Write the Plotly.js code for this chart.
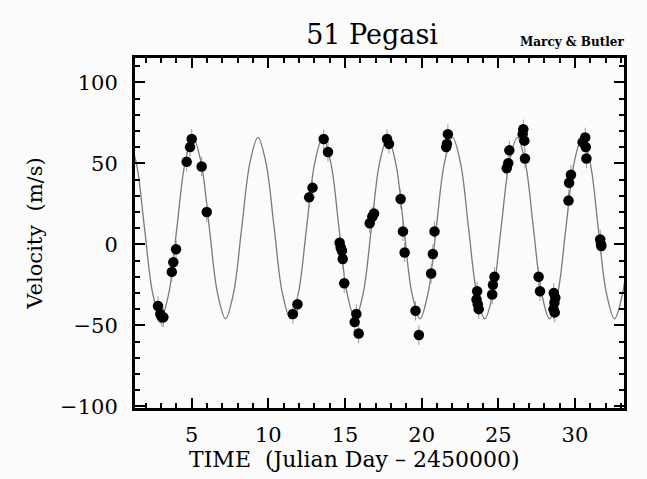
<!DOCTYPE html>
<html><head><meta charset="utf-8">
<script src="https://cdn.plot.ly/plotly-3.0.1.min.js"></script>
<style>html,body{margin:0;padding:0;background:#fbfbfb;}#chart{width:647px;height:479px;}</style>
</head><body><div id="chart"></div>
<script>
// Observed radial velocities (Julian Day - 2450000, m/s)
const obsTime = [2.8, 2.95, 3.05, 3.15, 3.7, 3.8, 3.98, 4.67, 4.89, 5.0, 5.65, 5.98,
  11.6, 11.9, 12.66, 12.88, 13.61, 13.89,
  14.65, 14.72, 14.8, 14.85, 14.95, 15.63, 15.74, 15.89,
  16.61, 16.78, 16.89, 17.74, 17.87, 18.63, 18.78, 18.89, 19.6, 19.82,
  20.62, 20.73, 20.84, 21.6, 21.65, 21.71,
  23.62, 23.58, 23.66, 23.72, 24.6, 24.65, 24.75,
  25.55, 25.65, 25.72, 26.59, 26.63, 26.7, 26.74,
  27.63, 27.72, 28.62, 28.72, 28.66, 28.6, 28.68,
  29.58, 29.62, 29.74, 30.5, 30.67, 30.71, 30.75,
  31.65, 31.7, 31.72];
const obsVel = [-38, -43, -45, -45, -17, -11, -3, 51, 60, 65, 48, 20,
  -43, -37, 29, 35, 65, 57,
  1, -2, -4, -9, -24, -48, -43, -55,
  13, 17, 19, 65, 62, 28, 8, -5, -41, -56,
  -18, -6, 8, 60, 62, 68,
  -29, -34, -37, -40, -31, -25, -20,
  47, 50, 58, 68, 71, 64, 53,
  -20, -29, -30, -33, -36, -40, -42,
  27, 38, 43, 63, 66, 60, 53,
  3, 0, -1];
const obsErr = 6;

// Fitted orbit curve (extrema, crossings and eighths)
const fitTime = [0.86, 1.39, 1.92, 2.45, 2.98, 3.51, 4.03, 4.56, 5.09, 5.62, 6.15, 6.68, 7.21, 7.73, 8.26, 8.79,
  9.32, 9.85, 10.38, 10.91, 11.44, 11.96, 12.49, 13.02, 13.55, 14.08, 14.61, 15.13, 15.66, 16.19, 16.72, 17.25,
  17.78, 18.31, 18.84, 19.36, 19.89, 20.42, 20.95, 21.48, 22.01, 22.54, 23.06, 23.59, 24.12, 24.65, 25.18, 25.71,
  26.24, 26.77, 27.29, 27.82, 28.35, 28.88, 29.41, 29.94, 30.47, 31.00, 31.52, 32.05, 32.58, 33.11, 33.64];
const fitVel = [66, 50, 10, -30, -46, -30, 10, 50, 66, 50, 10, -30, -46, -30, 10, 50,
  66, 50, 10, -30, -46, -30, 10, 50, 66, 50, 10, -30, -46, -30, 10, 50,
  66, 50, 10, -30, -46, -30, 10, 50, 66, 50, 10, -30, -46, -30, 10, 50,
  66, 50, 10, -30, -46, -30, 10, 50, 66, 50, 10, -30, -46, -30, 10];

const xTicks = [5, 10, 15, 20, 25, 30];
const yTicks = [-100, -50, 0, 50, 100];

const serif = 'DejaVu Serif';
const traces = [
  {x: fitTime, y: fitVel, type: 'scatter', mode: 'lines',
   line: {color: '#7a7a7a', width: 1.3, shape: 'spline', smoothing: 1.0}, hoverinfo: 'skip'},
  {x: obsTime, y: obsVel, type: 'scatter', mode: 'markers',
   marker: {color: '#000', size: 10.5},
   error_y: {type: 'constant', value: obsErr, color: '#999', thickness: 1, width: 0}}
];
const axisCommon = {
  showline: true, linecolor: '#000', linewidth: 3, mirror: 'ticks',
  ticks: 'inside', ticklen: 10, tickwidth: 2, tickcolor: '#000',
  showgrid: false, zeroline: false,
  tickfont: {family: serif, size: 21, color: '#000'}
};
const layout = {
  width: 647, height: 479,
  paper_bgcolor: '#fbfbfb', plot_bgcolor: '#fbfbfb',
  margin: {l: 135, r: 23, t: 58, b: 71},
  showlegend: false,
  title: {text: '51 Pegasi', x: 0.575, xanchor: 'center', y: 0.927, yanchor: 'middle',
          font: {family: serif, size: 27, color: '#000'}},
  xaxis: Object.assign({}, axisCommon, {
    range: [1.3, 33.2], tickvals: xTicks, ticktext: xTicks.map(String),
    ticklabelstandoff: 6,
    minor: {ticks: 'inside', ticklen: 5, tickwidth: 2, dtick: 1, tickcolor: '#000', showgrid: false}
  }),
  yaxis: Object.assign({}, axisCommon, {
    range: [-101, 115], tickvals: yTicks, ticktext: ['\u2212100', '\u221250', '0', '50', '100'],
    minor: {ticks: 'inside', ticklen: 5, tickwidth: 2, dtick: 10, tickcolor: '#000', showgrid: false},
    ticklabelstandoff: 10,
    title: {text: 'Velocity\u00a0\u00a0(m/s)', standoff: 12,
            font: {family: serif, size: 21, color: '#000'}}
  }),
  annotations: [
    {text: '<b>Marcy & Butler</b>', xref: 'paper', yref: 'paper', x: 1.005, y: 1.02,
     xanchor: 'right', yanchor: 'bottom', showarrow: false,
     font: {family: serif, size: 12, color: '#000'}},
    {text: 'TIME\u00a0\u00a0(Julian Day \u2013 2450000)', xref: 'paper', yref: 'paper', x: 0.448, y: -0.148,
     xanchor: 'center', yanchor: 'middle', showarrow: false,
     font: {family: serif, size: 22, color: '#000'}}
  ]
};
Plotly.newPlot('chart', traces, layout, {displayModeBar: false, staticPlot: true});
</script></body></html>
